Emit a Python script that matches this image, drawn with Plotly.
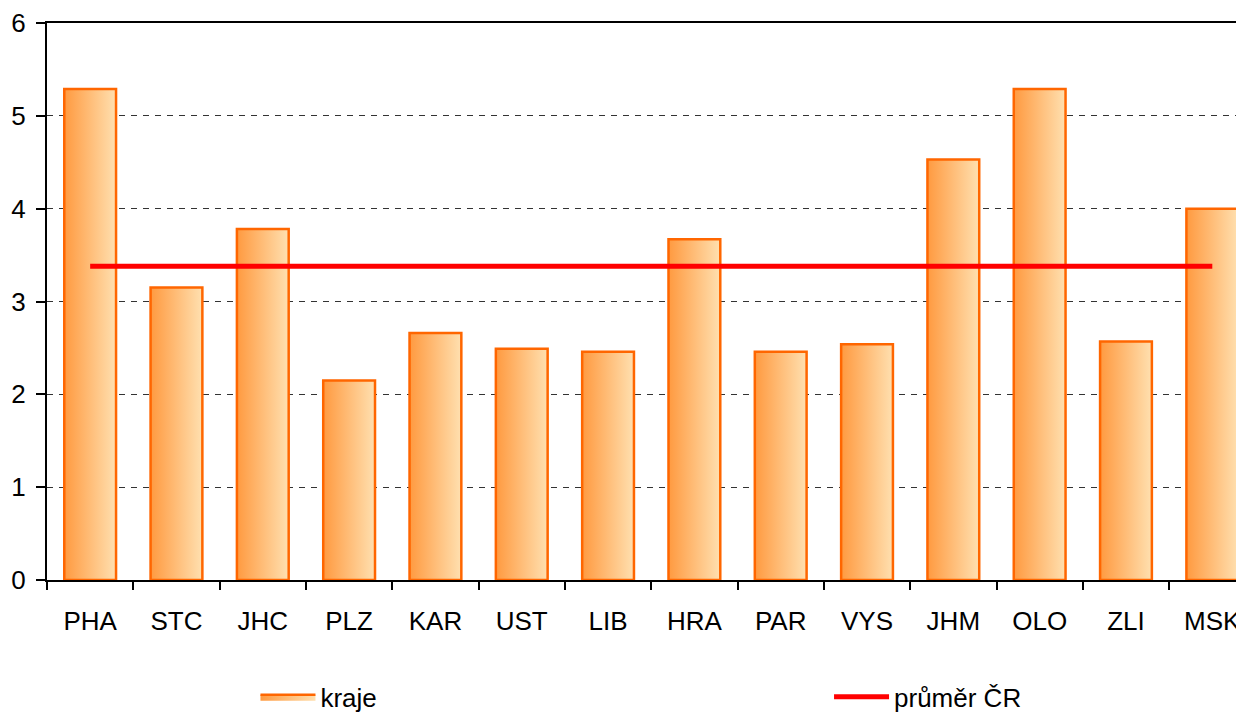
import plotly.graph_objects as go

regions = ["PHA", "STC", "JHC", "PLZ", "KAR", "UST", "LIB",
           "HRA", "PAR", "VYS", "JHM", "OLO", "ZLI", "MSK"]
values = [5.29, 3.15, 3.78, 2.15, 2.66, 2.49, 2.46,
          3.67, 2.46, 2.54, 4.53, 5.29, 2.57, 4.00]
cr_average = 3.38

half = 0.3  # bar half width in category units
fig = go.Figure()

# bars as filled polygons so each gets a left-to-right gradient
for i, v in enumerate(values):
    fig.add_trace(go.Scatter(
        x=[i - half, i + half, i + half, i - half, i - half],
        y=[0, 0, v, v, 0],
        mode="lines",
        fill="toself",
        fillgradient=dict(type="horizontal",
                          colorscale=[[0, "#FF9A40"], [1, "#FFE0B0"]]),
        line=dict(color="#FF6600", width=2.5),
        name="kraje",
        legend="legend",
        showlegend=(i == 0),
        hovertemplate=f"{regions[i]}: {v}<extra></extra>",
    ))

# national average line
fig.add_trace(go.Scatter(
    x=[0, len(regions) - 1],
    y=[cr_average, cr_average],
    mode="lines",
    line=dict(color="#FF0000", width=5),
    name="průměr ČR",
    legend="legend2",
))

fig.update_xaxes(
    range=[-0.5, 13.46],
    automargin=False,
    tickmode="array",
    tickvals=list(range(len(regions))),
    ticktext=regions,
    ticks="outside",
    ticklen=17,
    tickcolor="rgba(0,0,0,0)",
    minor=dict(ticks="outside", ticklen=8, tickwidth=2, tickcolor="black",
               tickvals=[i - 0.5 for i in range(len(regions) + 1)]),
    showgrid=False,
    zeroline=False,
    showline=True,
    linecolor="black",
    linewidth=2,
    mirror=True,
    ticklabeloverflow="allow",
    tickfont=dict(size=26, color="black"),
)

fig.update_yaxes(
    range=[0, 6],
    automargin=False,
    tickvals=[0, 1, 2, 3, 4, 5, 6],
    ticks="outside",
    ticklen=9,
    tickwidth=2,
    tickcolor="black",
    ticklabelstandoff=5,
    ticklabeloverflow="allow",
    showline=True,
    linecolor="black",
    linewidth=2,
    showgrid=True,
    gridcolor="#333333",
    gridwidth=1,
    griddash="6px,6px",
    zeroline=False,
    tickfont=dict(size=26, color="black"),
)

legend_style = dict(
    orientation="h",
    yanchor="middle",
    y=-0.21,
    itemwidth=55,
    font=dict(size=26, color="black"),
    bgcolor="rgba(0,0,0,0)",
)

fig.update_layout(
    width=1244,
    height=713,
    margin=dict(l=39, r=0, t=15, b=127),
    plot_bgcolor="white",
    paper_bgcolor="white",
    font=dict(family="Arial, Liberation Sans, sans-serif", color="black"),
    legend=dict(legend_style, x=0.173, xanchor="left"),
    legend2=dict(legend_style, x=0.649, xanchor="left"),
)

fig.write_html("out.html")
